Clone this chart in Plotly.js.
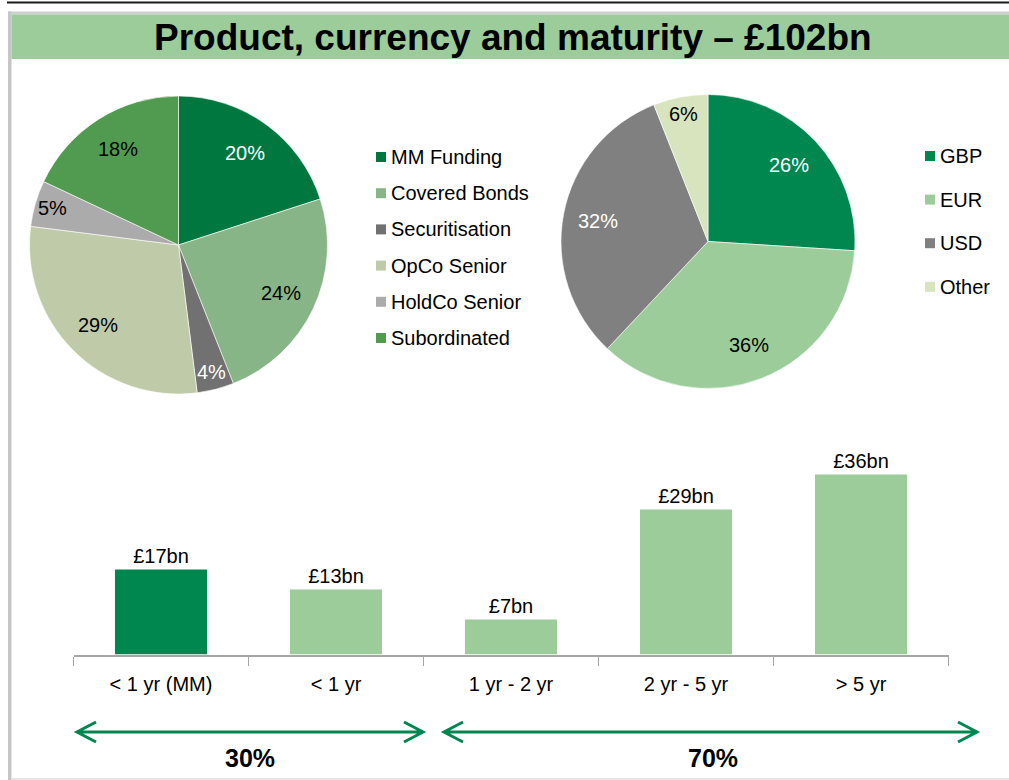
<!DOCTYPE html>
<html>
<head>
<meta charset="utf-8">
<script src="https://cdn.plot.ly/plotly-3.0.1.min.js"></script>
<style>
html,body{margin:0;padding:0;background:#ffffff;}
#chart{width:1009px;height:780px;}
</style>
</head>
<body>
<div id="chart"></div>
<script>
// ---------- DATA ----------
const chartTitle = 'Product, currency and maturity \u2013 \u00a3102bn';
const productLabels = ['MM Funding', 'Covered Bonds', 'Securitisation', 'OpCo Senior', 'HoldCo Senior', 'Subordinated'];
const productShares = [20, 24, 4, 29, 5, 18];
const currencyLabels = ['GBP', 'EUR', 'USD', 'Other'];
const currencyShares = [26, 36, 32, 6];
const maturityLabels = ['< 1 yr (MM)', '< 1 yr', '1 yr - 2 yr', '2 yr - 5 yr', '> 5 yr'];
const maturityValues = [17, 13, 7, 29, 36];
const splitLabels = ['30%', '70%'];

// ---------- STYLE ----------
const W = 1009, H = 780;
const FONT = 'Liberation Sans, Arial, Helvetica, sans-serif';
const productColors = ['#00773F', '#87B587', '#717171', '#BFCBA8', '#ABABAB', '#509B50'];
const productTextColors = ['#ffffff', '#000000', '#ffffff', '#000000', '#000000', '#000000'];
const currencyColors = ['#00874F', '#9BCC9A', '#808080', '#D7E4BD'];
const currencyTextColors = ['#ffffff', '#000000', '#ffffff', '#000000'];
const barColors = ['#00874F', '#9BCC9A', '#9BCC9A', '#9BCC9A', '#9BCC9A'];
const arrowColor = '#00874F';

function px(x) { return x / W; }
function py(y) { return 1 - y / H; }

// pie geometry (pixels)
const leftPie = {cx: 178.5, cy: 245, r: 149};
const rightPie = {cx: 708, cy: 241.5, r: 147};

function pieTrace(labels, values, colors, g) {
  return {
    type: 'pie', labels: labels, values: values, sort: false,
    direction: 'clockwise', rotation: 0,
    marker: {colors: colors, line: {color: '#ffffff', width: 0.6}},
    textinfo: 'none', hoverinfo: 'none', showlegend: false,
    domain: {x: [px(g.cx - g.r), px(g.cx + g.r)], y: [py(g.cy + g.r), py(g.cy - g.r)]}
  };
}

function pieLabelAnnotations(values, textColors, g) {
  const total = values.reduce((a, b) => a + b, 0);
  let cum = 0;
  const out = [];
  values.forEach((v, i) => {
    const mid = (cum + v / 2) / total * 2 * Math.PI;
    cum += v;
    const f = (v / total) < 0.07 ? 0.88 : 0.76;
    const x = g.cx + f * g.r * Math.sin(mid);
    const y = g.cy - f * g.r * Math.cos(mid);
    out.push({
      xref: 'paper', yref: 'paper', x: px(x), y: py(y),
      xanchor: 'center', yanchor: 'middle', showarrow: false,
      text: v + '%', font: {family: FONT, size: 20, color: textColors[i]}
    });
  });
  return out;
}

function legendItems(labels, colors, x0, y0, step) {
  const shapes = [], anns = [];
  labels.forEach((lab, i) => {
    const yc = y0 + step * i;
    shapes.push({
      type: 'rect', xref: 'paper', yref: 'paper',
      x0: px(x0), x1: px(x0 + 10), y0: py(yc + 5), y1: py(yc - 5),
      fillcolor: colors[i], line: {width: 0}
    });
    anns.push({
      xref: 'paper', yref: 'paper', x: px(x0 + 13), y: py(yc),
      xanchor: 'left', yanchor: 'middle', showarrow: false,
      text: lab, font: {family: FONT, size: 20, color: '#000000'}
    });
  });
  return {shapes, anns};
}

const barTrace = {
  type: 'bar', x: maturityLabels, y: maturityValues,
  marker: {color: barColors, line: {width: 0}},
  text: maturityValues.map(v => '\u00a3' + v + 'bn'),
  textposition: 'outside', textfont: {family: FONT, size: 20, color: '#000000'},
  cliponaxis: false, hoverinfo: 'none', showlegend: false,
  xaxis: 'x', yaxis: 'y'
};

// ---------- FRAME / DECORATION ----------
const shapes = [
  {type: 'line', xref: 'paper', yref: 'paper', x0: px(7), x1: px(1009), y0: py(2.5), y1: py(2.5), line: {color: '#1a1a1a', width: 2}},
  {type: 'rect', xref: 'paper', yref: 'paper', x0: px(8), x1: px(1009), y0: py(14.5), y1: py(11.5), fillcolor: '#cfcfcf', line: {width: 0}},
  {type: 'rect', xref: 'paper', yref: 'paper', x0: px(8), x1: px(11.5), y0: py(780), y1: py(11.5), fillcolor: '#c6c6c6', line: {width: 0}},
  {type: 'rect', xref: 'paper', yref: 'paper', x0: px(11.5), x1: px(1009), y0: py(780), y1: py(778), fillcolor: '#e4e4e4', line: {width: 0}},
  {type: 'rect', xref: 'paper', yref: 'paper', x0: px(11.5), x1: px(1009), y0: py(59), y1: py(14.5), fillcolor: '#9BCC9A', line: {width: 0}}
];

function arrowPath(xa, xb, y) {
  const ah = 19, aw = 10;
  return 'M ' + px(xa + ah) + ' ' + py(y - aw) + ' L ' + px(xa) + ' ' + py(y) + ' L ' + px(xa + ah) + ' ' + py(y + aw) +
    ' M ' + px(xa) + ' ' + py(y) + ' L ' + px(xb) + ' ' + py(y) +
    ' M ' + px(xb - ah) + ' ' + py(y - aw) + ' L ' + px(xb) + ' ' + py(y) + ' L ' + px(xb - ah) + ' ' + py(y + aw);
}
shapes.push({type: 'path', xref: 'paper', yref: 'paper', path: arrowPath(77, 423, 732), line: {color: arrowColor, width: 3}});
shapes.push({type: 'path', xref: 'paper', yref: 'paper', path: arrowPath(444, 977, 732), line: {color: arrowColor, width: 3}});

const legL = legendItems(productLabels, productColors, 376, 157, 36.2);
const legR = legendItems(currencyLabels, currencyColors, 925, 156, 43.6);

const annotations = [
  {xref: 'paper', yref: 'paper', x: px(513), y: py(37), xanchor: 'center', yanchor: 'middle', showarrow: false,
   text: '<b>' + chartTitle + '</b>', font: {family: FONT, size: 37, color: '#000000'}},
  {xref: 'paper', yref: 'paper', x: px(250), y: py(758), xanchor: 'center', yanchor: 'middle', showarrow: false,
   text: '<b>' + splitLabels[0] + '</b>', font: {family: FONT, size: 25, color: '#000000'}},
  {xref: 'paper', yref: 'paper', x: px(713), y: py(758), xanchor: 'center', yanchor: 'middle', showarrow: false,
   text: '<b>' + splitLabels[1] + '</b>', font: {family: FONT, size: 25, color: '#000000'}}
].concat(pieLabelAnnotations(productShares, productTextColors, leftPie))
 .concat(pieLabelAnnotations(currencyShares, currencyTextColors, rightPie))
 .concat(legL.anns).concat(legR.anns);

const layout = {
  width: W, height: H,
  margin: {l: 0, r: 0, t: 0, b: 0, pad: 0},
  paper_bgcolor: '#ffffff', plot_bgcolor: 'rgba(0,0,0,0)',
  font: {family: FONT, color: '#000000'},
  showlegend: false,
  bargap: 0.474,
  xaxis: {
    domain: [px(73.5), px(948.5)], type: 'category', anchor: 'y',
    showline: true, linecolor: '#A6A6A6', linewidth: 2,
    ticks: 'outside', tickson: 'boundaries', ticklen: 9, tickcolor: '#A6A6A6', tickwidth: 1.5,
    ticklabelstandoff: 10,
    tickfont: {family: FONT, size: 20, color: '#000000'},
    showgrid: false, zeroline: false, fixedrange: true
  },
  yaxis: {
    domain: [py(654.5), py(454.5)], range: [0, 40], visible: false,
    showgrid: false, zeroline: false, fixedrange: true
  },
  shapes: shapes.concat(legL.shapes).concat(legR.shapes),
  annotations: annotations
};

Plotly.newPlot('chart', [
  pieTrace(productLabels, productShares, productColors, leftPie),
  pieTrace(currencyLabels, currencyShares, currencyColors, rightPie),
  barTrace
], layout, {displayModeBar: false, staticPlot: true});
</script>
</body>
</html>
